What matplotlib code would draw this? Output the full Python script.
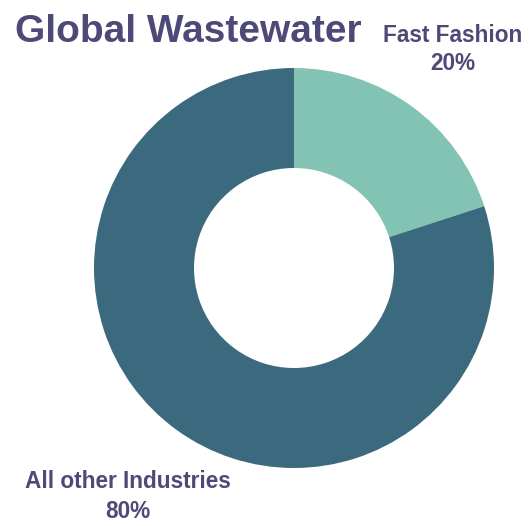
import matplotlib.pyplot as plt

# 数据
labels = ['Fast Fashion', 'All other Industries']
shares = [20, 80]
colors = ['#82c3b4', '#3b6a7e']
text_color = '#4d4a78'


def main():
    plt.rcParams['font.family'] = ['Liberation Sans', 'DejaVu Sans']
    W, H = 532, 526
    fig = plt.figure(figsize=(W / 100, H / 100), dpi=100)

    # 环形图 (centre ~ (294, 268) px, radius 200 px)
    ax = fig.add_axes([94 / W, (H - 468) / H, 400 / W, 400 / H])
    ax.pie(shares, colors=colors, startangle=90, counterclock=False,
           radius=1, wedgeprops=dict(width=0.5, linewidth=0))
    ax.set_xlim(-1, 1)
    ax.set_ylim(-1, 1)
    ax.set_aspect('equal')
    ax.axis('off')

    # 标题
    fig.text(15 / W, 1 - 32 / H, 'Global Wastewater', fontsize=28,
             fontweight='bold', color=text_color, ha='left', va='center')

    # 标签
    fs = 16.3
    fig.text(453 / W, 1 - 35 / H, f'{labels[0]}', fontsize=fs,
             fontweight='bold', color=text_color, ha='center', va='center')
    fig.text(453 / W, 1 - 64 / H, f'{shares[0]}%', fontsize=fs,
             fontweight='bold', color=text_color, ha='center', va='center')
    fig.text(128 / W, 1 - 482 / H, f'{labels[1]}', fontsize=fs,
             fontweight='bold', color=text_color, ha='center', va='center')
    fig.text(128 / W, 1 - 512 / H, f'{shares[1]}%', fontsize=fs,
             fontweight='bold', color=text_color, ha='center', va='center')

    plt.savefig('out.png', dpi=100)


if __name__ == '__main__':
    main()
